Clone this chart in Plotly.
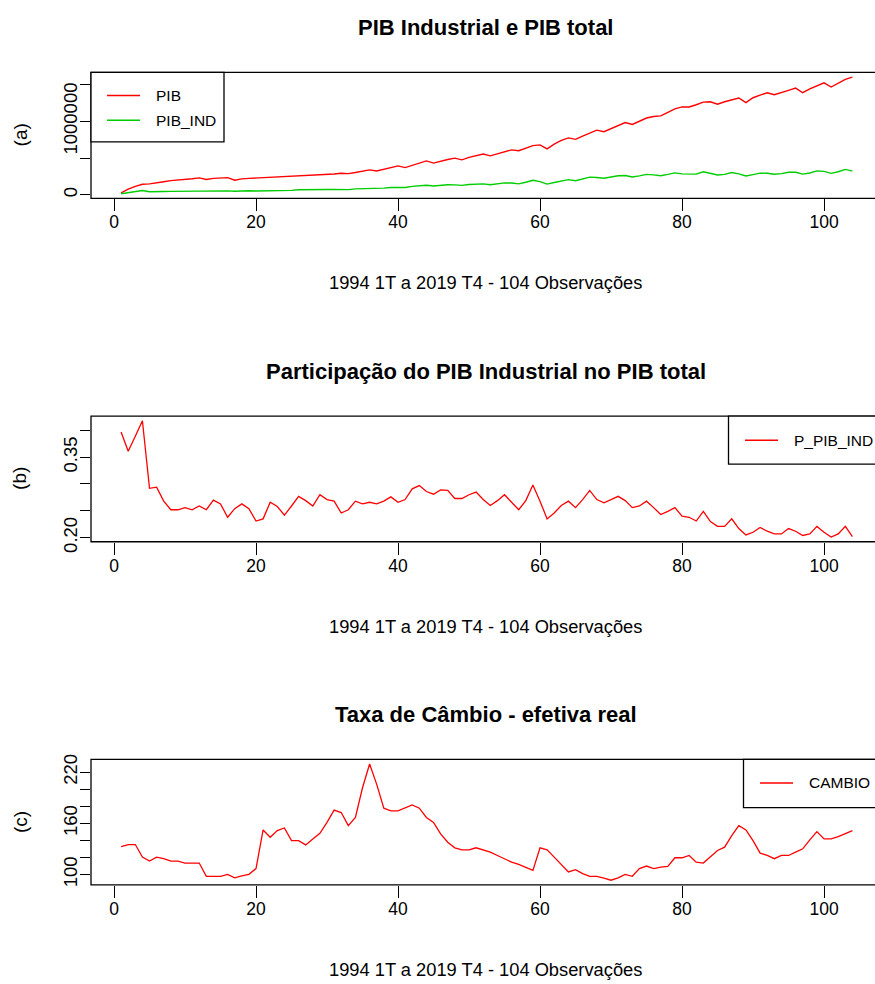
import plotly.graph_objects as go

# ---------------- data ----------------
obs = list(range(1, 105))

pib = [27000, 80000, 117000, 145000, 150000, 170000, 180000, 195000, 200000, 210000,
       220000, 232000, 210000, 225000, 232000, 235000, 200000, 218000, 225000, 230000,
       230000, 236000, 242000, 250000, 245000, 255000, 262000, 270000, 265000, 278000,
       285000, 295000, 290000, 305000, 318000, 340000, 325000, 348000, 365000, 395000,
       372000, 400000, 425000, 462000, 432000, 460000, 482000, 500000, 477000, 510000,
       530000, 555000, 531000, 560000, 585000, 612000, 600000, 640000, 670000, 680000,
       625000, 690000, 740000, 775000, 755000, 800000, 840000, 880000, 858000, 900000,
       940000, 984000, 957000, 1000000, 1045000, 1065000, 1074000, 1120000, 1170000, 1195000,
       1195000, 1225000, 1260000, 1265000, 1232000, 1265000, 1295000, 1317000, 1254000, 1320000,
       1355000, 1388000, 1361000, 1395000, 1420000, 1451000, 1388000, 1440000, 1480000, 1523000,
       1465000, 1520000, 1570000, 1600000]

pib_ind = [17000, 29000, 45000, 60000, 44000, 50000, 48000, 49000, 50000, 54000,
           55000, 60000, 53000, 61000, 61000, 56000, 51000, 57000, 57000, 53000,
           54000, 63000, 62000, 60000, 63000, 71000, 70000, 70000, 74000, 75000,
           76000, 73000, 73000, 82000, 84000, 90000, 85000, 93000, 101000, 105000,
           101000, 116000, 126000, 132000, 121000, 133000, 139000, 137000, 130000, 143000,
           151000, 150000, 138000, 151000, 164000, 162000, 151000, 172000, 200000, 182000,
           147000, 170000, 192000, 208000, 193000, 217000, 242000, 238000, 227000, 244000,
           260000, 265000, 245000, 259000, 280000, 273000, 261000, 279000, 300000, 287000,
           284000, 283000, 314000, 291000, 272000, 280000, 304000, 286000, 257000, 277000,
           297000, 294000, 282000, 289000, 308000, 308000, 283000, 298000, 327000, 320000,
           294000, 315000, 347000, 323000]

p_pib_ind = [0.397, 0.361, 0.389, 0.418, 0.292, 0.294, 0.268, 0.252, 0.252, 0.256,
             0.252, 0.259, 0.252, 0.270, 0.263, 0.238, 0.254, 0.263, 0.254, 0.231,
             0.235, 0.266, 0.258, 0.242, 0.259, 0.277, 0.269, 0.259, 0.280, 0.271,
             0.268, 0.246, 0.252, 0.268, 0.263, 0.266, 0.263, 0.268, 0.276, 0.266,
             0.271, 0.291, 0.297, 0.286, 0.281, 0.289, 0.288, 0.273, 0.273, 0.280,
             0.285, 0.271, 0.260, 0.269, 0.280, 0.265, 0.252, 0.269, 0.298, 0.268,
             0.235, 0.246, 0.260, 0.268, 0.256, 0.271, 0.288, 0.271, 0.265, 0.271,
             0.277, 0.269, 0.256, 0.259, 0.268, 0.256, 0.243, 0.249, 0.256, 0.240,
             0.238, 0.231, 0.249, 0.230, 0.221, 0.221, 0.235, 0.217, 0.205, 0.210,
             0.219, 0.212, 0.207, 0.207, 0.217, 0.212, 0.204, 0.207, 0.221, 0.210,
             0.201, 0.207, 0.221, 0.202]

cambio = [132.9, 135.2, 135.2, 120.5, 115.8, 120.5, 118.6, 115.8, 115.8, 113.5,
          113.5, 113.5, 98.0, 98.0, 98.0, 100.3, 96.1, 98.4, 100.3, 107.0,
          152.3, 143.7, 151.5, 154.6, 139.8, 139.8, 134.8, 141.8, 148.3, 161.1,
          175.5, 172.7, 157.3, 166.9, 201.7, 229.6, 205.7, 177.8, 174.7, 174.7,
          178.5, 181.6, 177.8, 166.9, 161.1, 147.6, 137.9, 131.4, 129.0, 129.0,
          131.4, 129.0, 126.3, 122.4, 118.6, 114.6, 112.0, 108.8, 105.0, 131.4,
          129.0, 120.5, 112.0, 103.1, 105.8, 101.2, 98.0, 98.0, 95.8, 93.4,
          96.1, 100.3, 98.0, 107.0, 110.0, 107.0, 108.8, 109.6, 119.7, 119.7,
          122.4, 114.6, 113.5, 120.5, 128.2, 132.1, 145.6, 157.3, 152.3, 139.8,
          125.1, 122.4, 118.6, 122.4, 122.4, 126.3, 130.2, 140.6, 150.3, 141.8,
          141.8, 144.5, 147.6, 151.5]

x_tickvals = [0, 20, 40, 60, 80, 100]
a_tickvals = [0, 500000, 1000000, 1500000]
a_ticktext = ["0", "", "1000000", ""]
b_tickvals = [0.20, 0.25, 0.30, 0.35, 0.40]
b_ticktext = ["0.20", "", "", "0.35", ""]
c_tickvals = [100, 120, 140, 160, 180, 200, 220]
c_ticktext = ["100", "", "", "160", "", "", "220"]

titles = ["PIB Industrial e PIB total",
          "Participação do PIB Industrial no PIB total",
          "Taxa de Câmbio - efetiva real"]
xlabel = "1994 1T a 2019 T4 - 104 Observações"
ylabels = ["(a)", "(b)", "(c)"]

# ---------------- layout helpers ----------------
W, H = 875, 984
FONT = "Liberation Sans, Arial, sans-serif"
RED = "#FF0000"
GREEN = "#00CD00"


def px(x):
    return x / W


def py(y):
    return 1 - (1.008 * y - 2.0) / H


def rrange(*series):
    vals = [v for s in series for v in s]
    lo, hi = min(vals), max(vals)
    pad = 0.04 * (hi - lo)
    return [lo - pad, hi + pad]


panels = [(70, 197), (416.5, 543.3), (762.7, 889.3)]
box_left = 91
x_range = [-3.24, 107.18]

fig = go.Figure()
fig.add_trace(go.Scatter(x=obs, y=pib, mode="lines", line=dict(color=RED, width=1.4),
                         name="PIB", xaxis="x", yaxis="y", showlegend=False))
fig.add_trace(go.Scatter(x=obs, y=pib_ind, mode="lines", line=dict(color=GREEN, width=1.4),
                         name="PIB_IND", xaxis="x", yaxis="y", showlegend=False))
fig.add_trace(go.Scatter(x=obs, y=p_pib_ind, mode="lines", line=dict(color=RED, width=1.3),
                         name="P_PIB_IND", xaxis="x2", yaxis="y2", showlegend=False))
fig.add_trace(go.Scatter(x=obs, y=cambio, mode="lines", line=dict(color=RED, width=1.3),
                         name="CAMBIO", xaxis="x3", yaxis="y3", showlegend=False))

yranges = [rrange(pib, pib_ind), rrange(p_pib_ind), rrange(cambio)]
ytv = [a_tickvals, b_tickvals, c_tickvals]
ytt = [a_ticktext, b_ticktext, c_ticktext]

layout = dict(width=W, height=H, margin=dict(l=0, r=0, t=0, b=0),
              paper_bgcolor="white", plot_bgcolor="white", showlegend=False,
              font=dict(family=FONT, color="black", size=15))

shapes = []
annotations = []
for k, (top, bot) in enumerate(panels):
    sfx = "" if k == 0 else str(k + 1)
    layout["xaxis" + sfx] = dict(
        domain=[px(box_left), 1], range=x_range, anchor="y" + sfx,
        tickmode="array", tickvals=x_tickvals, ticks="outside", ticklen=12,
        tickwidth=1, tickcolor="black", showgrid=False, zeroline=False, showline=False,
        tickfont=dict(size=17.5, family=FONT, color="black"), ticklabelstandoff=-4)
    layout["yaxis" + sfx] = dict(
        domain=[py(bot), py(top)], range=yranges[k], anchor="x" + sfx,
        tickmode="array", tickvals=ytv[k], ticktext=ytt[k], tickangle=-90,
        ticks="outside", ticklen=10, tickwidth=1, tickcolor="black",
        showgrid=False, zeroline=False, showline=False,
        tickfont=dict(size=18.5, family=FONT, color="black"), ticklabelstandoff=-4)
    shapes.append(dict(type="rect", xref="paper", yref="paper",
                       x0=px(box_left), x1=px(882), y0=py(bot), y1=py(top),
                       line=dict(color="black", width=1.3), fillcolor="rgba(0,0,0,0)"))
    annotations.append(dict(text="<b>" + titles[k] + "</b>", xref="paper", yref="paper",
                            x=px(486), y=py(top - 45), showarrow=False,
                            font=dict(size=22, family=FONT, color="black"),
                            xanchor="center", yanchor="middle"))
    annotations.append(dict(text=xlabel, xref="paper", yref="paper",
                            x=px(486), y=py(bot + 85), showarrow=False,
                            font=dict(size=18.3, family=FONT, color="black"),
                            xanchor="center", yanchor="middle"))
    annotations.append(dict(text=ylabels[k], xref="paper", yref="paper",
                            x=px(20), y=py((top + bot) / 2), showarrow=False, textangle=-90,
                            font=dict(size=19, family=FONT, color="black"),
                            xanchor="center", yanchor="middle"))

legends = [
    dict(box=(91, 224, 70, 140), items=[("PIB", RED, 93.3), ("PIB_IND", GREEN, 118.3)],
         lx=(107, 140), tx=154),
    dict(box=(728.5, 900, 416.5, 465), items=[("P_PIB_IND", RED, 441)],
         lx=(745, 778), tx=792),
    dict(box=(743.5, 900, 762.7, 811.5), items=[("CAMBIO", RED, 786.5)],
         lx=(760, 793), tx=807),
]
for lg in legends:
    x0, x1, y0, y1 = lg["box"]
    shapes.append(dict(type="rect", xref="paper", yref="paper",
                       x0=px(x0), x1=px(x1), y0=py(y1), y1=py(y0),
                       line=dict(color="black", width=1.3), fillcolor="white"))
    for name, col, yy in lg["items"]:
        shapes.append(dict(type="line", xref="paper", yref="paper",
                           x0=px(lg["lx"][0]), x1=px(lg["lx"][1]), y0=py(yy), y1=py(yy),
                           line=dict(color=col, width=1.5)))
        annotations.append(dict(text=name, xref="paper", yref="paper",
                                x=px(lg["tx"]), y=py(yy), showarrow=False,
                                font=dict(size=15.5, family=FONT, color="black"),
                                xanchor="left", yanchor="middle"))

layout["shapes"] = shapes
layout["annotations"] = annotations
fig.update_layout(**layout)
fig.write_html("out.html")
